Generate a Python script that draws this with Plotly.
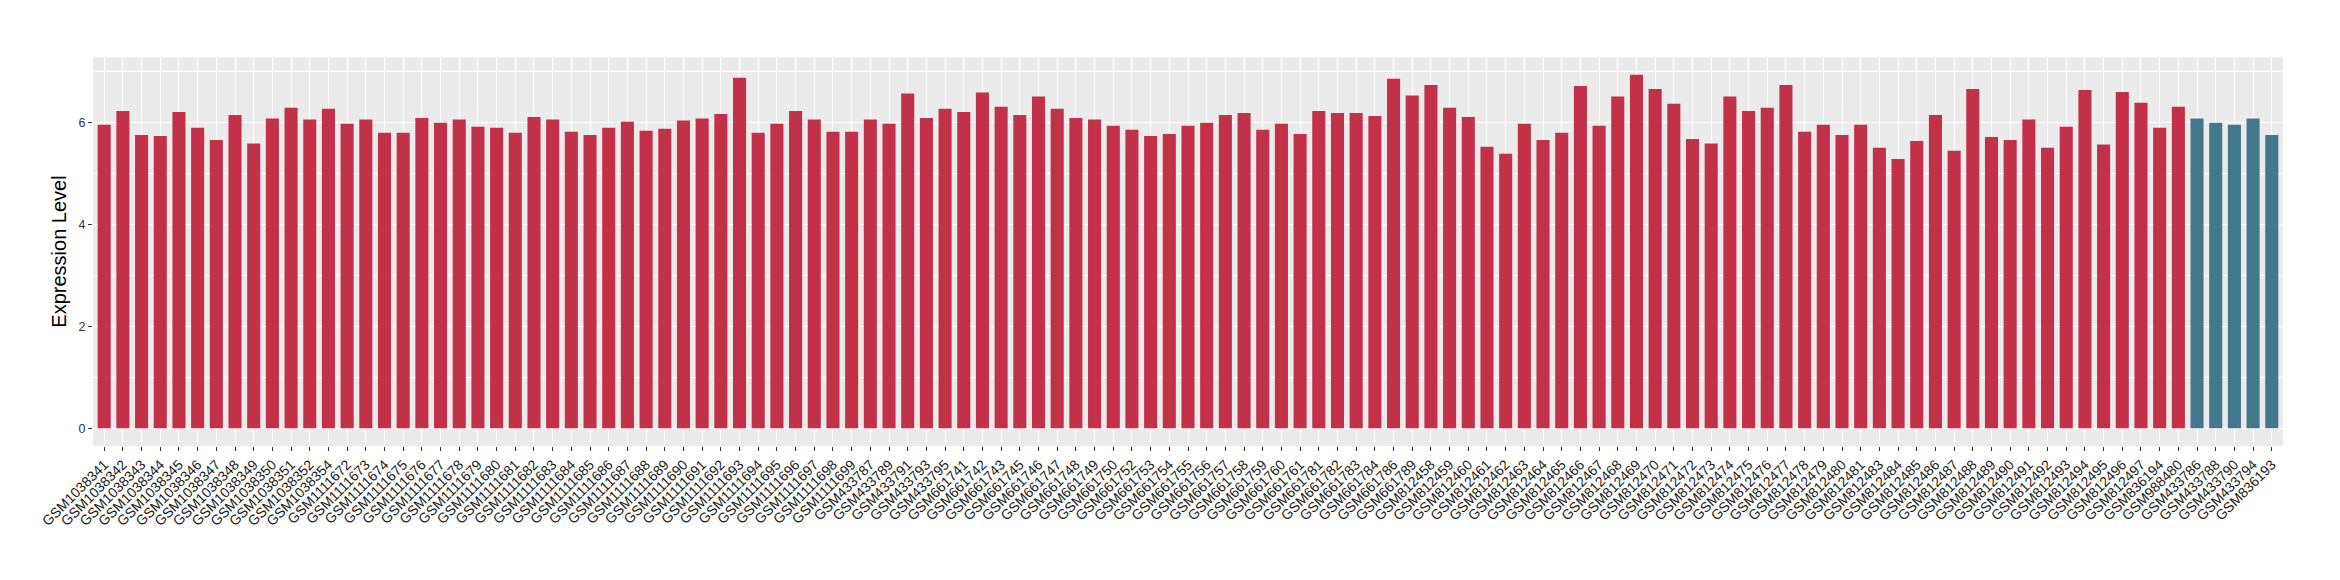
import plotly.graph_objects as go

samples = [
    "GSM1038341", "GSM1038342", "GSM1038343", "GSM1038344", "GSM1038345", "GSM1038346",
    "GSM1038347", "GSM1038348", "GSM1038349", "GSM1038350", "GSM1038351", "GSM1038352",
    "GSM1038354",
    "GSM1111672", "GSM1111673", "GSM1111674", "GSM1111675", "GSM1111676", "GSM1111677",
    "GSM1111678", "GSM1111679", "GSM1111680", "GSM1111681", "GSM1111682", "GSM1111683",
    "GSM1111684", "GSM1111685", "GSM1111686", "GSM1111687", "GSM1111688", "GSM1111689",
    "GSM1111690", "GSM1111691", "GSM1111692", "GSM1111693", "GSM1111694", "GSM1111695",
    "GSM1111696", "GSM1111697", "GSM1111698", "GSM1111699",
    "GSM433787", "GSM433789", "GSM433791", "GSM433793", "GSM433795",
    "GSM661741", "GSM661742", "GSM661743", "GSM661745", "GSM661746", "GSM661747",
    "GSM661748", "GSM661749", "GSM661750", "GSM661752", "GSM661753", "GSM661754",
    "GSM661755", "GSM661756", "GSM661757", "GSM661758", "GSM661759", "GSM661760",
    "GSM661761", "GSM661781", "GSM661782", "GSM661783", "GSM661784", "GSM661786",
    "GSM661789",
    "GSM812458", "GSM812459", "GSM812460", "GSM812461", "GSM812462", "GSM812463",
    "GSM812464", "GSM812465", "GSM812466", "GSM812467", "GSM812468", "GSM812469",
    "GSM812470", "GSM812471", "GSM812472", "GSM812473", "GSM812474", "GSM812475",
    "GSM812476", "GSM812477", "GSM812478", "GSM812479", "GSM812480", "GSM812481",
    "GSM812483", "GSM812484", "GSM812485", "GSM812486", "GSM812487", "GSM812488",
    "GSM812489", "GSM812490", "GSM812491", "GSM812492", "GSM812493", "GSM812494",
    "GSM812495", "GSM812496", "GSM812497",
    "GSM836194", "GSM988480",
    "GSM433786", "GSM433788", "GSM433790", "GSM433794", "GSM836193",
]

expression = [
    5.95, 6.22, 5.75, 5.73, 6.20, 5.89, 5.65, 6.14, 5.58, 6.07, 6.28, 6.05, 6.26,
    5.97, 6.05, 5.79, 5.79, 6.08, 5.99, 6.05, 5.91, 5.89, 5.79, 6.10, 6.05, 5.81,
    5.75, 5.89, 6.01, 5.83, 5.87, 6.03, 6.07, 6.16, 6.87, 5.79, 5.97, 6.22, 6.05,
    5.81, 5.81,
    6.05, 5.97, 6.56, 6.08, 6.26,
    6.20, 6.58, 6.30, 6.14, 6.50, 6.26, 6.08, 6.05, 5.93, 5.85, 5.73, 5.77, 5.93,
    5.99, 6.14, 6.18, 5.85, 5.97, 5.77, 6.22, 6.18, 6.18, 6.12, 6.85, 6.52,
    6.73, 6.28, 6.10, 5.52, 5.38, 5.97, 5.65, 5.79, 6.71, 5.93, 6.50, 6.93, 6.65,
    6.36, 5.67, 5.58, 6.50, 6.22, 6.28, 6.73, 5.81, 5.95, 5.75, 5.95, 5.50, 5.28,
    5.63, 6.14, 5.44, 6.65, 5.71, 5.65, 6.05, 5.50, 5.91, 6.63, 5.56, 6.59, 6.38,
    5.89, 6.30,
    6.07, 5.99, 5.95, 6.07, 5.75,
]

groups = ["case"] * 112 + ["control"] * 5

group_colors = {"case": "#C33149", "control": "#427889"}
y_ticks = [0, 2, 4, 6]

bar_colors = [group_colors[g] for g in groups]

fig = go.Figure(
    go.Bar(
        x=samples,
        y=expression,
        marker=dict(color=bar_colors, line=dict(width=0)),
        showlegend=False,
    )
)

ymax = max(expression)
pad = 0.05 * ymax

# page body has an 8px margin, so the figure is sized to fit inside it
fig.update_layout(
    width=2324,
    height=564,
    margin=dict(l=85, r=49, t=49, b=126),
    paper_bgcolor="white",
    plot_bgcolor="#EBEBEB",
    bargap=0.3,
    font=dict(family="Liberation Sans, Arial, sans-serif", color="#1a1a1a"),
    xaxis=dict(
        type="category",
        range=[-0.6, len(samples) - 0.4],
        tickangle=-45,
        tickfont=dict(size=14, color="#1a1a1a"),
        showgrid=True,
        gridcolor="white",
        gridwidth=1.3,
        ticks="outside",
        ticklen=4,
        tickcolor="#333333",
        tickwidth=1,
        zeroline=False,
        showline=False,
        automargin=False,
    ),
    yaxis=dict(
        range=[-pad, ymax + pad],
        tickvals=y_ticks,
        ticktext=[str(v) for v in y_ticks],
        tickfont=dict(size=12.5, color="#333333"),
        showgrid=True,
        gridcolor="white",
        gridwidth=1.3,
        minor=dict(dtick=1, tick0=1, showgrid=True, gridcolor="white", gridwidth=0.7),
        ticks="outside",
        ticklen=4,
        tickcolor="#333333",
        tickwidth=1,
        zeroline=False,
        showline=False,
        automargin=False,
        title=dict(text="Expression Level", font=dict(size=20, color="black"), standoff=6),
    ),
)

fig.write_html("out.html")
